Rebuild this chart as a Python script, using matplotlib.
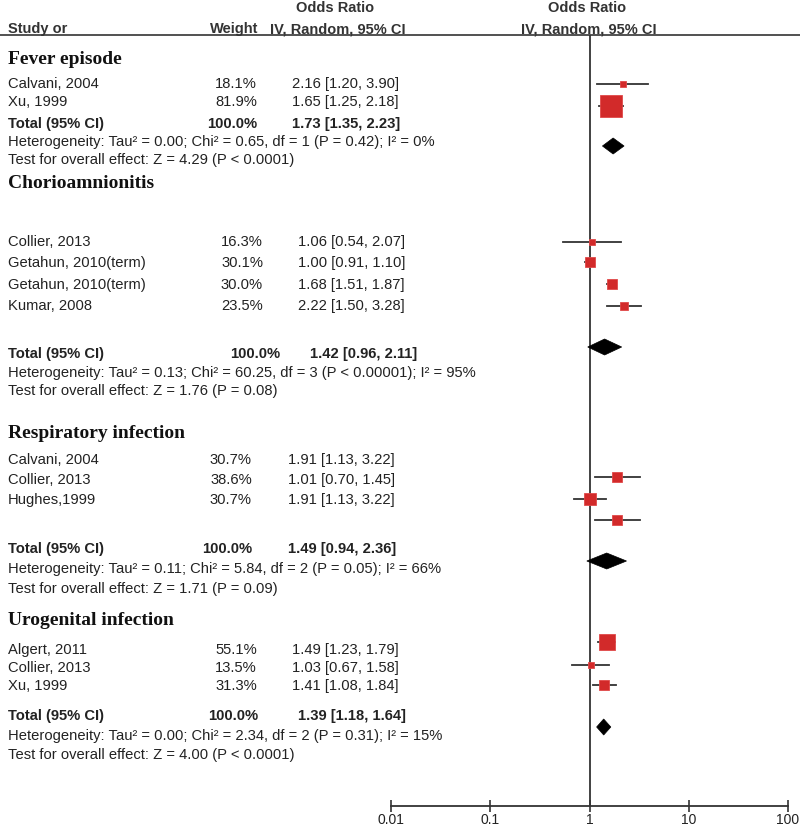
import matplotlib
matplotlib.use("Agg")
import matplotlib.pyplot as plt
from matplotlib.transforms import blended_transform_factory
from matplotlib.patches import Polygon

# ---------------- data ----------------
groups = ["Fever episode", "Chorioamnionitis", "Respiratory infection", "Urogenital infection"]

studies = [
    ["Calvani, 2004", "Xu, 1999"],
    ["Collier, 2013", "Getahun, 2010(term)", "Getahun, 2010(term)", "Kumar, 2008"],
    ["Calvani, 2004", "Collier, 2013", "Hughes,1999"],
    ["Algert, 2011", "Collier, 2013", "Xu, 1999"],
]
weights = [
    [18.1, 81.9],
    [16.3, 30.1, 30.0, 23.5],
    [30.7, 38.6, 30.7],
    [55.1, 13.5, 31.3],
]
or_est = [
    [2.16, 1.65],
    [1.06, 1.00, 1.68, 2.22],
    [1.91, 1.01, 1.91],
    [1.49, 1.03, 1.41],
]
or_lo = [
    [1.20, 1.25],
    [0.54, 0.91, 1.51, 1.50],
    [1.13, 0.70, 1.13],
    [1.23, 0.67, 1.08],
]
or_hi = [
    [3.90, 2.18],
    [2.07, 1.10, 1.87, 3.28],
    [3.22, 1.45, 3.22],
    [1.79, 1.58, 1.84],
]
total_est = [1.73, 1.42, 1.49, 1.39]
total_lo = [1.35, 0.96, 0.94, 1.18]
total_hi = [2.23, 2.11, 2.36, 1.64]
het_text = [
    "Heterogeneity: Tau\u00b2 = 0.00; Chi\u00b2 = 0.65, df = 1 (P = 0.42); I\u00b2 = 0%",
    "Heterogeneity: Tau\u00b2 = 0.13; Chi\u00b2 = 60.25, df = 3 (P < 0.00001); I\u00b2 = 95%",
    "Heterogeneity: Tau\u00b2 = 0.11; Chi\u00b2 = 5.84, df = 2 (P = 0.05); I\u00b2 = 66%",
    "Heterogeneity: Tau\u00b2 = 0.00; Chi\u00b2 = 2.34, df = 2 (P = 0.31); I\u00b2 = 15%",
]
test_text = [
    "Test for overall effect: Z = 4.29 (P < 0.0001)",
    "Test for overall effect: Z = 1.76 (P = 0.08)",
    "Test for overall effect: Z = 1.71 (P = 0.09)",
    "Test for overall effect: Z = 4.00 (P < 0.0001)",
]
tick_vals = [0.01, 0.1, 1, 10, 100]
tick_labels = ["0.01", "0.1", "1", "10", "100"]

# ---------------- layout (pixel rows from top) ----------------
W, H = 800, 828
title_y = [60, 184, 434, 621]
text_y = [[84, 102], [242, 263, 285, 306], [460, 480, 500], [650, 668, 686]]
mark_y = [[85, 107], [243, 263, 285, 307], [478, 500, 521], [643, 666, 686]]
tot_text_y = [124, 354, 549, 716]
tot_mark_y = [147, 348, 562, 728]
het_y = [142, 373, 569, 736]
test_y = [160, 391, 589, 755]
w_right = [257, 263, 252, 257]
ci_left = [292, 298, 288, 292]
tw_right = [257, 280, 252, 258]
tci_left = [292, 310, 288, 298]

ax_left, ax_right = 391, 788
ax_top, ax_bottom = 36, 807

plt.rcParams['font.family'] = ['Liberation Sans', 'DejaVu Sans']
fig = plt.figure(figsize=(W / 100, H / 100), dpi=100)
ax = fig.add_axes([ax_left / W, 1 - ax_bottom / H, (ax_right - ax_left) / W, (ax_bottom - ax_top) / H])
ax.set_xscale('log')
ax.set_xlim(0.01, 100)
ax.set_ylim(ax_bottom, ax_top)
for s in ['top', 'left', 'right']:
    ax.spines[s].set_visible(False)
ax.spines['bottom'].set_color('#333333')
ax.spines['bottom'].set_linewidth(1.3)
ax.set_yticks([])
ax.set_xticks(tick_vals)
ax.set_xticklabels(tick_labels)
ax.minorticks_off()
ax.tick_params(axis='x', direction='inout', length=8, width=1.2, color='#333333',
               labelsize=10, labelcolor='#222222', pad=0)
ax.patch.set_alpha(0)

# line of no effect
ax.axvline(1, color='#333333', lw=1.3, zorder=1)

# header
trans = blended_transform_factory(fig.transFigure, ax.transData)
def fx(px):
    return px / W

hdr = dict(fontsize=10.5, fontweight='bold', color='#333333', transform=trans, va='center')
ax.text(fx(335), 8, "Odds Ratio", ha='center', **hdr, clip_on=False)
ax.text(fx(8), 29, "Study or", ha='left', **hdr, clip_on=False)
ax.text(fx(258), 29, "Weight", ha='right', **hdr, clip_on=False)
ax.text(fx(338), 29, "IV, Random, 95% CI", ha='center', **hdr, clip_on=False)
ax.text(fx(587), 8, "Odds Ratio", ha='center', **hdr, clip_on=False)
ax.text(fx(589), 29, "IV, Random, 95% CI", ha='center', **hdr, clip_on=False)
ax.plot([0, 1], [36, 36], transform=trans, color='#333333', lw=1.2, clip_on=False)

txt = dict(fontsize=10.6, color='#222222', transform=trans, va='center', clip_on=False)
sq_color = '#d22a2a'

for g in range(len(groups)):
    ax.text(fx(8), title_y[g], groups[g], ha='left', family=['Liberation Serif', 'DejaVu Serif'],
            fontsize=14, fontweight='bold', color='#111111', transform=trans, va='center', clip_on=False)
    for i, name in enumerate(studies[g]):
        ty = text_y[g][i]
        ax.text(fx(8), ty, name, ha='left', **txt)
        ax.text(fx(w_right[g]), ty, f"{weights[g][i]:.1f}%", ha='right', **txt)
        ax.text(fx(ci_left[g]), ty, f"{or_est[g][i]:.2f} [{or_lo[g][i]:.2f}, {or_hi[g][i]:.2f}]",
                ha='left', **txt)
        my = mark_y[g][i]
        ax.plot([or_lo[g][i], or_hi[g][i]], [my, my], color='#333333', lw=1.3, zorder=2)
        side_px = 0.22 * weights[g][i] + 3
        ax.plot([or_est[g][i]], [my], marker='s', ms=side_px * 0.72, color=sq_color,
                mec='#e04848', mew=0.6, zorder=3, linestyle='none')
    # totals
    ty = tot_text_y[g]
    bt = dict(txt)
    bt['fontweight'] = 'bold'
    ax.text(fx(8), ty, "Total (95% CI)", ha='left', **bt)
    ax.text(fx(tw_right[g]), ty, "100.0%", ha='right', **bt)
    ax.text(fx(tci_left[g]), ty, f"{total_est[g]:.2f} [{total_lo[g]:.2f}, {total_hi[g]:.2f}]",
            ha='left', **bt)
    ax.text(fx(8), het_y[g], het_text[g], ha='left', **txt)
    ax.text(fx(8), test_y[g], test_text[g], ha='left', **txt)
    dy = tot_mark_y[g]
    diamond = Polygon([(total_lo[g], dy), (total_est[g], dy - 8), (total_hi[g], dy), (total_est[g], dy + 8)],
                      closed=True, facecolor='black', edgecolor='black', lw=0.5, zorder=4)
    ax.add_patch(diamond)

fig.savefig("out.png", dpi=100)
